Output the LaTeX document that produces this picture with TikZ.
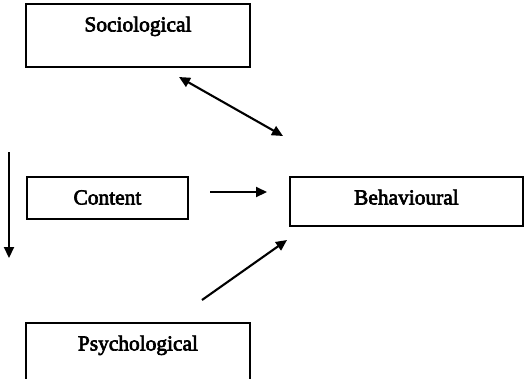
\documentclass[tikz,border=0pt]{standalone}
\usepackage{fontspec}
\newfontfamily\lblfont{Liberation Serif}[FakeBold=3]
\usetikzlibrary{arrows.meta}
\begin{document}
\begin{tikzpicture}[x=1pt, y=-1pt,
  box/.style={draw, line width=1.9pt, inner sep=0pt, anchor=north west,
    text height=27.5pt, font={\lblfont\fontsize{21.4}{24}\selectfont}},
  link/.style={line width=2.1pt, -{Triangle[length=11pt, width=10pt]}},
  twoway/.style={line width=2.1pt, {Triangle[length=11pt, width=10pt]}-{Triangle[length=11pt, width=10pt]}}]
\useasboundingbox (0,0) rectangle (526,378);
\clip (0,0) rectangle (526,378);
\fill[white] (0,0) rectangle (526,378);

% boxes
\node[box, minimum width=224pt, text depth=35.5pt] (soc) at (25,3) {Sociological};
\node[box, minimum width=161pt, text depth=14.5pt] (con) at (26,176) {Content};
\node[box, minimum width=233pt, text depth=21.5pt] (beh) at (289,176) {Behavioural};
\node[box, minimum width=224pt, text depth=35.5pt] (psy) at (25,322) {Psychological};

% arrow end points
\coordinate (v1) at (9,152);   \coordinate (v2) at (9,258);
\coordinate (c1) at (210,192); \coordinate (c2) at (267,192);
\coordinate (s1) at (179,77);  \coordinate (s2) at (283,136);
\coordinate (p1) at (202,300); \coordinate (p2) at (287,240);

% connectors
\draw[link] (v1) -- (v2);
\draw[link] (c1) -- (c2);
\draw[twoway] (s1) -- (s2);
\draw[link] (p1) -- (p2);
\end{tikzpicture}
\end{document}
